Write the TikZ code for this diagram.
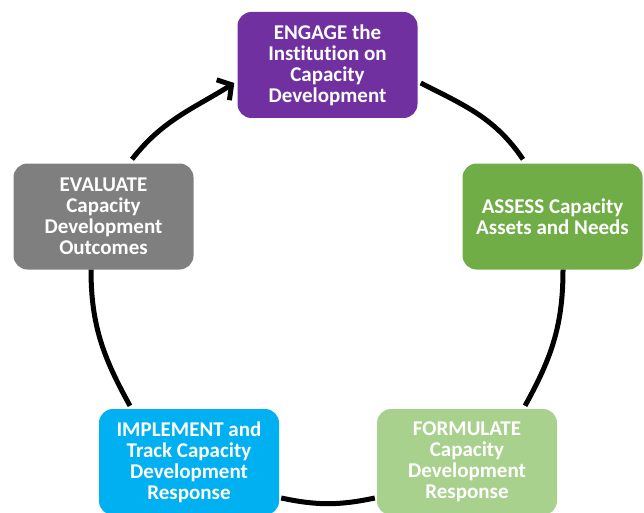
\documentclass[tikz,border=0pt]{standalone}
\usepackage{fontspec}
\setmainfont{Carlito}[Ligatures=NoCommon]
\usetikzlibrary{arrows.meta}
\definecolor{cpurple}{HTML}{7030A0}
\definecolor{cgreen}{HTML}{70AD47}
\definecolor{cgray}{HTML}{7F7F7F}
\definecolor{cblue}{HTML}{00B0F0}
\definecolor{clight}{HTML}{A9D18E}
\begin{document}
\begin{tikzpicture}[x=1pt,y=-1pt,
  stage/.style={rounded corners=14pt, minimum width=180pt, minimum height=106pt,
    inner sep=0pt, align=center, text=white,
    font=\bfseries\fontsize{21}{21}\selectfont},
  cycleline/.style={line width=5pt, black}]
\useasboundingbox (0,0) rectangle (644,513);
% the five stages
\node[stage, fill=cpurple] (engage)    at (327.5,65)  {ENGAGE the\\Institution on\\Capacity\\Development};
\node[stage, fill=cgreen]  (assess)    at (552.5,216.5) {ASSESS Capacity\\Assets and Needs};
\node[stage, fill=cgray]   (evaluate)  at (103.5,216.5) {EVALUATE\\Capacity\\Development\\Outcomes};
\node[stage, fill=cblue]   (implement) at (189,462)   {IMPLEMENT and\\Track Capacity\\Development\\Response};
\node[stage, fill=clight]  (formulate) at (467,462)   {FORMULATE\\Capacity\\Development\\Response};
% cycle arcs
\draw[cycleline, -{Straight Barb[length=10pt,width=24pt]}]
  ([xshift=28.5pt,yshift=4pt]evaluate.north) to[out=52,in=212]
  ([xshift=-3pt,yshift=-18pt]engage.west);
\draw[cycleline]
  ([xshift=3pt,yshift=-18pt]engage.east) to[out=-27,in=124]
  ([xshift=-29.5pt,yshift=4pt]assess.north);
\draw[cycleline]
  ([xshift=10.5pt]assess.south) to[out=-90,in=61]
  ([xshift=58pt,yshift=3pt]formulate.north);
\draw[cycleline]
  ([xshift=-2pt,yshift=-36pt]formulate.west) to[out=192,in=-12]
  ([xshift=2pt,yshift=-36pt]implement.east);
\draw[cycleline]
  ([xshift=-59pt,yshift=3pt]implement.north) to[out=119,in=-90]
  ([xshift=-12.5pt]evaluate.south);
\end{tikzpicture}
\end{document}
